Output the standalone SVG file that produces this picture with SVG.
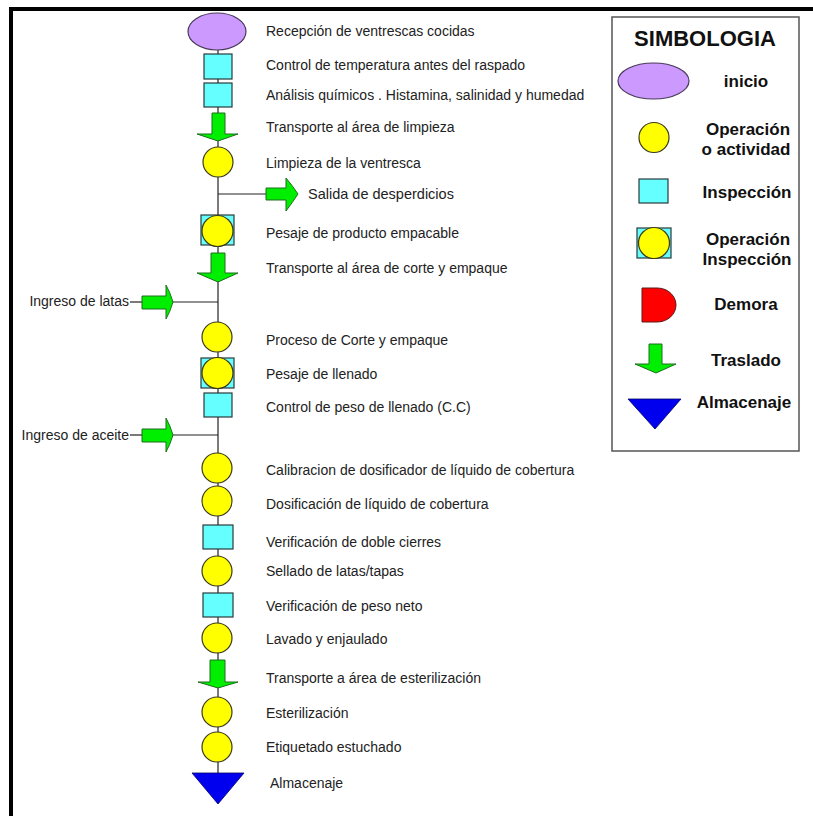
<svg xmlns="http://www.w3.org/2000/svg" width="813" height="816" viewBox="0 0 813 816">
<style>
.t{font-family:"Liberation Sans",Arial,sans-serif;font-size:14px;fill:#222}
.lg{font-family:"Liberation Sans",Arial,sans-serif;font-size:17px;font-weight:bold;fill:#111;text-anchor:middle}
.op{fill:#FFFF00;stroke:#3a3a1a;stroke-width:1.2}
.in{fill:#66FFFF;stroke:#2a3a3a;stroke-width:1.2}
.ar{fill:#00EE00;stroke:#1f6f1f;stroke-width:1}
.ini{fill:#CC99FF;stroke:#4a3a5a;stroke-width:1.2}
.alm{fill:#0000EE;stroke:#000066;stroke-width:0.8}
.ln{stroke:#222;stroke-width:1.2;fill:none}
</style>
<rect width="813" height="816" fill="#fff"/>
<!-- frame -->
<path d="M9,7 H813 V11 H13 V816 H9 Z" fill="#000"/>

<g id="connectors">
<line class="ln" x1="218" y1="50" x2="218" y2="775"/>
<line class="ln" x1="218" y1="194" x2="266" y2="194"/>
<line class="ln" x1="172" y1="302" x2="218" y2="302"/>
<line class="ln" x1="130" y1="302" x2="142" y2="302"/>
<line class="ln" x1="172" y1="435" x2="218" y2="435"/>
<line class="ln" x1="130" y1="435" x2="142" y2="435"/>
</g>

<g id="n1"><ellipse class="ini" cx="217" cy="31.5" rx="29" ry="18.5"/><text class="t" x="266" y="36">Recepción de ventrescas cocidas</text></g>
<g id="n2"><rect class="in" x="204" y="54" width="28" height="25"/><text class="t" x="266" y="70">Control de temperatura antes del raspado</text></g>
<g id="n3"><rect class="in" x="204" y="83" width="28" height="24"/><text class="t" x="266" y="100">Análisis químicos . Histamina, salinidad y humedad</text></g>
<g id="n4"><polygon class="ar" points="212,113 225,113 225,134 238,134 218,141 197,134 212,134"/><text class="t" x="266" y="132">Transporte al área de limpieza</text></g>
<g id="n5"><circle class="op" cx="218" cy="162" r="15"/><text class="t" x="266" y="168">Limpieza de la ventresca</text></g>
<g id="n6"><path class="ar" d="M266,188 H286 V178 Q292,185 298,194 Q292,203 286,211 V200 H266 Z"/><text class="t" x="308" y="199" style="font-size:14.5px">Salida de desperdicios</text></g>
<g id="n7"><rect class="in" x="201" y="215" width="33" height="30"/><circle class="op" cx="217.5" cy="231" r="15.5"/><text class="t" x="266" y="238">Pesaje de producto empacable</text></g>
<g id="n8"><polygon class="ar" points="211,253 225,253 225,273 238,273 218,282 197,273 211,273"/><text class="t" x="266" y="273">Transporte al área de corte y empaque</text></g>
<g id="n9"><path class="ar" d="M142,296 H166 V285 Q170,292 173,302 Q170,312 166,319 V309 H142 Z"/><text class="t" x="129" y="306" text-anchor="end">Ingreso de latas</text></g>
<g id="n10"><circle class="op" cx="217" cy="337" r="15"/><text class="t" x="266" y="345">Proceso de Corte y empaque</text></g>
<g id="n11"><rect class="in" x="201" y="358" width="33" height="30"/><circle class="op" cx="217.5" cy="373" r="15.5"/><text class="t" x="266" y="379">Pesaje de llenado</text></g>
<g id="n12"><rect class="in" x="204" y="393" width="28" height="24"/><text class="t" x="266" y="412">Control de peso de llenado (C.C)</text></g>
<g id="n13"><path class="ar" d="M142,429 H166 V418 Q170,425 173,435 Q170,445 166,452 V442 H142 Z"/><text class="t" x="129" y="440" text-anchor="end">Ingreso de aceite</text></g>
<g id="n14"><circle class="op" cx="217" cy="468" r="15"/><text class="t" x="266" y="475">Calibracion de dosificador de líquido de cobertura</text></g>
<g id="n15"><circle class="op" cx="217" cy="501" r="15"/><text class="t" x="266" y="509">Dosificación de líquido de cobertura</text></g>
<g id="n16"><rect class="in" x="203" y="525" width="30" height="24"/><text class="t" x="266" y="547">Verificación de doble cierres</text></g>
<g id="n17"><circle class="op" cx="217" cy="571" r="15"/><text class="t" x="266" y="576">Sellado de latas/tapas</text></g>
<g id="n18"><rect class="in" x="203" y="593" width="30" height="24"/><text class="t" x="266" y="611">Verificación de peso neto</text></g>
<g id="n19"><circle class="op" cx="217" cy="638" r="15"/><text class="t" x="266" y="644">Lavado y enjaulado</text></g>
<g id="n20"><polygon class="ar" points="210,660 225,660 225,682 238,682 218,688 198,682 210,682"/><text class="t" x="266" y="683">Transporte a área de esterilización</text></g>
<g id="n21"><circle class="op" cx="217" cy="712" r="15"/><text class="t" x="266" y="718">Esterilización</text></g>
<g id="n22"><circle class="op" cx="217" cy="747" r="15"/><text class="t" x="266" y="752">Etiquetado estuchado</text></g>
<g id="n23"><polygon class="alm" points="192,773 244,773 218,804"/><text class="t" x="270" y="788">Almacenaje</text></g>

<g id="legend">
<rect x="612" y="17" width="187" height="434" fill="#fff" stroke="#555" stroke-width="1.5"/>
<text x="705" y="46" style="font-family:'Liberation Sans',Arial,sans-serif;font-size:22px;font-weight:bold;fill:#111;text-anchor:middle">SIMBOLOGIA</text>
<g id="lg-inicio"><ellipse class="ini" cx="653.5" cy="81" rx="35.5" ry="18"/><text class="lg" x="746" y="87">inicio</text></g>
<g id="lg-op"><circle class="op" cx="654" cy="137.5" r="15"/><text class="lg" x="748" y="135">Operación</text><text class="lg" x="746" y="155">o actividad</text></g>
<g id="lg-in"><rect class="in" x="639" y="179" width="29" height="24"/><text class="lg" x="747" y="198">Inspección</text></g>
<g id="lg-opin"><rect class="in" x="637" y="228" width="34" height="30"/><circle class="op" cx="654" cy="243" r="15.5"/><text class="lg" x="748" y="245">Operación</text><text class="lg" x="747" y="265">Inspección</text></g>
<g id="lg-dem"><path d="M642,288 H657 C669,288 676,297 676,305 C676,314 668,322 657,322 H642 Z" fill="#FF0000" stroke="#5a1a1a" stroke-width="1"/><text class="lg" x="746" y="310">Demora</text></g>
<g id="lg-tras"><polygon class="ar" points="649,344 662,344 662,364 676,364 656,373 635,364 649,364"/><text class="lg" x="746" y="366">Traslado</text></g>
<g id="lg-alm"><polygon class="alm" points="628,399 681,399 655,429"/><text class="lg" x="744" y="408">Almacenaje</text></g>
</g>
</svg>
